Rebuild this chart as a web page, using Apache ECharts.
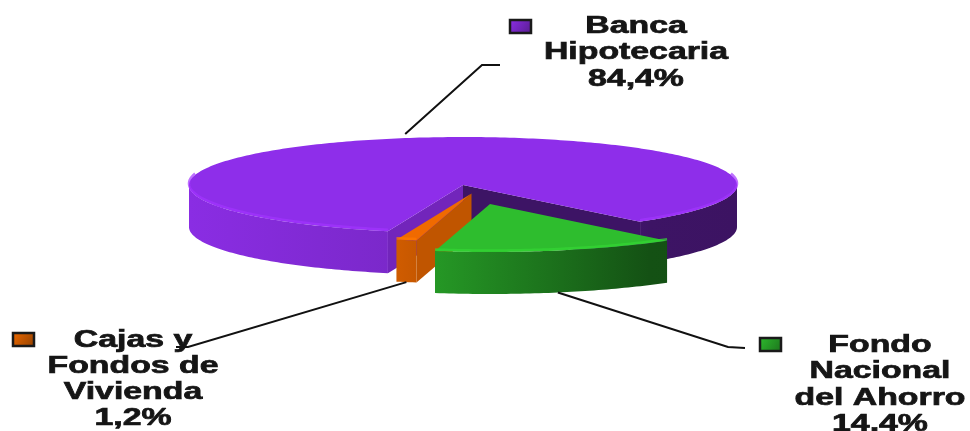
<!DOCTYPE html>
<html>
<head>
<meta charset="utf-8">
<script src="https://cdn.jsdelivr.net/npm/echarts@6/dist/echarts.min.js"></script>
<style>
  html, body { margin: 0; padding: 0; background: #fff; }
  #chart { width: 970px; height: 431px; }
</style>
</head>
<body>
<div id="chart"></div>
<script>
// data
const names = ['Banca\nHipotecaria', 'Fondo\nNacional\ndel Ahorro', 'Cajas y\nFondos de\nVivienda'];
const shares = [84.4, 14.4, 1.2];
const colors = ['#8E2EEA', '#2EBD2E', '#F06A00'];

// 3D pie geometry (pixels)
const CX = 463, CY = 185, RX = 274, RY = 48, DEPTH = 42, START = 105.9;
const explode = [[0, 0], [27, 19], [8.5, 8.5]];

// label placement
const labelPos = [
	{ x: 636, y: 26.5, pitch: 26.5, box: [510, 20], elbow: [482, 65], end: [500, 65] },
	{ x: 880, y: 345.5, pitch: 26.5, box: [760, 338], elbow: [728, 347], end: [745, 348] },
	{ x: 133, y: 340.5, pitch: 26, box: [13, 333], elbow: [188, 347], end: [176, 347] }
];

const total = shares.reduce((a, b) => a + b, 0);

function shade(hex, f) {
	const n = parseInt(hex.slice(1), 16);
	const c = v => Math.min(255, Math.round(v * f));
	return 'rgb(' + c((n >> 16) & 255) + ',' + c((n >> 8) & 255) + ',' + c(n & 255) + ')';
}

function pt(a, off, down) {
	const r = a * Math.PI / 180;
	return [CX + RX * Math.cos(r) + off[0], CY + RY * Math.sin(r) + off[1] + (down || 0)];
}

function arc(a0, a1, off, down) {
	const pts = [];
	const n = Math.max(2, Math.ceil(Math.abs(a1 - a0)));
	for (let i = 0; i <= n; i++) pts.push(pt(a0 + (a1 - a0) * i / n, off, down));
	return pts;
}

function sideGradient(color) {
	return new echarts.graphic.LinearGradient(189, 0, 737, 0, [
		{ offset: 0, color: shade(color, 0.97) },
		{ offset: 0.385, color: shade(color, 0.86) },
		{ offset: 0.84, color: shade(color, 0.43) },
		{ offset: 1, color: shade(color, 0.42) }
	], true);
}

// drawing rank: slices further to the front are drawn later
const ranks = shares.map((v, i) => {
	const before = shares.slice(0, i).reduce((a, b) => a + b, 0);
	const mid = START + 360 * (before + v / 2) / total;
	return explode[i][1] + RY * Math.sin(mid * Math.PI / 180);
});
const order = ranks.map((r, i) => i).sort((a, b) => ranks[a] - ranks[b]);

function renderItem(params, api) {
	const idx = params.dataIndex;
	const value = api.value(0);
	const before = shares.slice(0, idx).reduce((a, b) => a + b, 0);
	const a0 = START + 360 * before / total;
	const a1 = a0 + 360 * value / total;
	const mid = (a0 + a1) / 2;
	const off = explode[idx];
	const color = colors[idx];
	const z = order.indexOf(idx) * 10;
	const apex = [CX + off[0], CY + off[1]];
	const children = [];

	// cut walls
	if (Math.cos(a0 * Math.PI / 180) < 0) {
		const p = pt(a0, off);
		children.push({
			type: 'polygon', z2: z + 1,
			shape: { points: [apex, p, [p[0], p[1] + DEPTH], [apex[0], apex[1] + DEPTH]] },
			style: { fill: shade(color, 0.8) }
		});
	}
	if (Math.cos(a1 * Math.PI / 180) > 0) {
		const p = pt(a1, off);
		children.push({
			type: 'polygon', z2: z + 1,
			shape: { points: [apex, p, [p[0], p[1] + DEPTH], [apex[0], apex[1] + DEPTH]] },
			style: { fill: shade(color, 0.43) }
		});
	}

	// front outer walls
	for (let k = -1; k <= 2; k++) {
		const lo = Math.max(a0, 360 * k), hi = Math.min(a1, 360 * k + 180);
		if (hi > lo) {
			const top = arc(lo, hi, off, 0);
			const bottom = arc(hi, lo, off, DEPTH);
			children.push({
				type: 'polygon', z2: z + 2,
				shape: { points: top.concat(bottom) },
				style: { fill: sideGradient(color) }
			});
		}
	}

	// top face
	children.push({
		type: 'polygon', z2: z + 3,
		shape: { points: [apex].concat(arc(a0, a1, off, 0)) },
		style: { fill: color }
	});

	// light bevel along the front rim
	for (let k = -1; k <= 2; k++) {
		const lo = Math.max(a0, 360 * k - 12), hi = Math.min(a1, 360 * k + 192);
		if (hi > lo) {
			children.push({
				type: 'polyline', z2: z + 4,
				shape: { points: arc(lo, hi, off, -1.5) },
				style: { stroke: shade(color, 1.14), lineWidth: 2.5, fill: null, opacity: 0.7 }
			});
		}
	}

	// leader line
	const L = labelPos[idx];
	const front = Math.sin(mid * Math.PI / 180) > 0;
	const start = pt(mid, off, front ? DEPTH : -4);
	children.push({
		type: 'polyline', z2: 100,
		shape: { points: [start, L.elbow, L.end] },
		style: { stroke: '#111', lineWidth: 2, fill: null }
	});

	// legend key
	children.push({
		type: 'rect', z2: 100,
		shape: { x: L.box[0], y: L.box[1], width: 21, height: 13 },
		style: {
			fill: new echarts.graphic.LinearGradient(0, 0, 1, 1, [
				{ offset: 0, color: shade(color, 1) },
				{ offset: 1, color: shade(color, 0.6) }
			]),
			stroke: '#1a1a1a', lineWidth: 2.5
		}
	});

	// label text
	const lines = names[idx].split('\n').concat(value.toFixed(1).replace('.', ',') + '%');
	lines.forEach((line, k) => {
		children.push({
			type: 'text', z2: 100,
			x: L.x, y: L.y + k * L.pitch, scaleX: 1.47,
			style: {
				text: line, fill: '#151515', stroke: '#151515', lineWidth: 0.7,
				font: 'bold 23px "Liberation Sans", Arial, sans-serif',
				align: 'center', verticalAlign: 'middle',
				textAlign: 'center', textVerticalAlign: 'middle'
			}
		});
	});

	return { type: 'group', children };
}

const chart = echarts.init(document.getElementById('chart'));
chart.setOption({
	animation: false,
	series: [
		{
			type: 'custom',
			coordinateSystem: 'none',
			silent: true,
			data: shares.map(v => [v]),
			renderItem
		}
	]
});
</script>
</body>
</html>
